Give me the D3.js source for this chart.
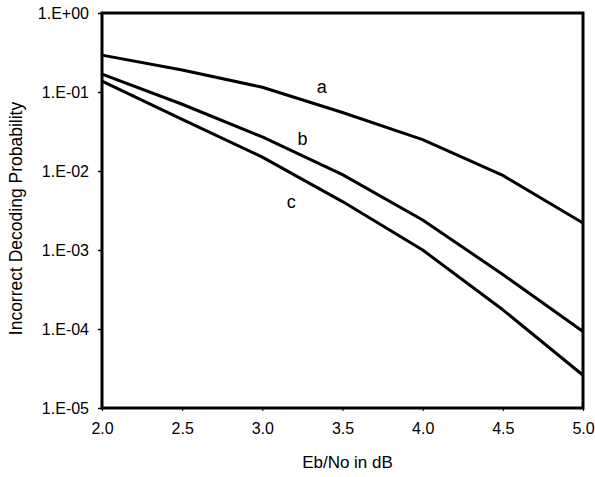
<!DOCTYPE html>
<html>
<head>
<meta charset="utf-8">
<script src="https://cdn.jsdelivr.net/npm/d3@7"></script>
<style>
  body { margin: 0; background: #fff; }
  svg text { font-family: "Liberation Sans", Arial, sans-serif; fill: #000; }
</style>
</head>
<body>
<svg id="chart" width="595" height="477"></svg>
<script>
const ebno = [2.0, 2.5, 3.0, 3.5, 4.0, 4.5, 5.0];
const seriesA = [0.293, 0.19, 0.115, 0.055, 0.025, 0.0088, 0.0022];
const seriesB = [0.168, 0.07, 0.027, 0.009, 0.0024, 0.00049, 0.000093];
const seriesC = [0.137, 0.045, 0.015, 0.0041, 0.001, 0.000175, 0.000026];
const seriesNames = ["a", "b", "c"];
const labelX = [3.37, 3.25, 3.18];
const labelY = [0.116, 0.026, 0.0041];
const xTicks = [2.0, 2.5, 3.0, 3.5, 4.0, 4.5, 5.0];
const yTicks = [1, 1e-1, 1e-2, 1e-3, 1e-4, 1e-5];
const yTickLabels = ["1.E+00", "1.E-01", "1.E-02", "1.E-03", "1.E-04", "1.E-05"];

(function () {
const svg = d3.select("#chart");
const mLeft = 102, mRight = 583, mTop = 13, mBottom = 408;

const x = d3.scaleLinear().domain([2, 5]).range([mLeft, mRight]);
const y = d3.scaleLog().domain([1e-5, 1]).range([mBottom, mTop]);

// X axis
const xAxis = d3.axisBottom(x).tickValues(xTicks).tickFormat(d3.format(".1f")).tickSize(3).tickPadding(12);
const gx = svg.append("g").attr("transform", `translate(0,${mBottom})`).call(xAxis);
gx.select(".domain").remove();
gx.selectAll("line").attr("stroke", "#000").attr("stroke-width", 1);
gx.selectAll("text").attr("font-size", 16).attr("fill", "#000");

// Y axis
const yAxis = d3.axisLeft(y).tickValues(yTicks).tickFormat((d, i) => yTickLabels[i]).tickSize(4).tickPadding(9);
const gy = svg.append("g").attr("transform", `translate(${mLeft},0)`).call(yAxis);
gy.select(".domain").remove();
gy.selectAll("line").attr("stroke", "#000").attr("stroke-width", 1.5);
gy.selectAll("text").attr("font-size", 16).attr("fill", "#000");

// Frame
svg.append("rect")
  .attr("x", mLeft).attr("y", mTop)
  .attr("width", mRight - mLeft).attr("height", mBottom - mTop)
  .attr("fill", "none").attr("stroke", "#000").attr("stroke-width", 3);

// Lines
const allSeries = [seriesA, seriesB, seriesC];
const line = d3.line().x((d, i) => x(ebno[i])).y(d => y(d));
svg.selectAll("path.series").data(allSeries).enter().append("path")
  .attr("class", "series")
  .attr("d", line)
  .attr("fill", "none")
  .attr("stroke", "#000")
  .attr("stroke-width", 3)
  .attr("stroke-linejoin", "round");

// Curve labels
svg.selectAll("text.lbl").data(seriesNames).enter().append("text")
  .attr("class", "lbl")
  .attr("x", (d, i) => x(labelX[i]))
  .attr("y", (d, i) => y(labelY[i]))
  .attr("dy", "0.35em")
  .attr("text-anchor", "middle")
  .attr("font-size", 18)
  .text(d => d);

// Axis titles
svg.append("text")
  .attr("x", (mLeft + mRight) / 2 + 5)
  .attr("y", 468)
  .attr("text-anchor", "middle")
  .attr("font-size", 17)
  .text("Eb/No in dB");

svg.append("text")
  .attr("transform", `translate(22,${(mTop + mBottom) / 2 + 8}) rotate(-90)`)
  .attr("text-anchor", "middle")
  .attr("font-size", 17.5)
  .text("Incorrect Decoding Probability");
})();
</script>
</body>
</html>
